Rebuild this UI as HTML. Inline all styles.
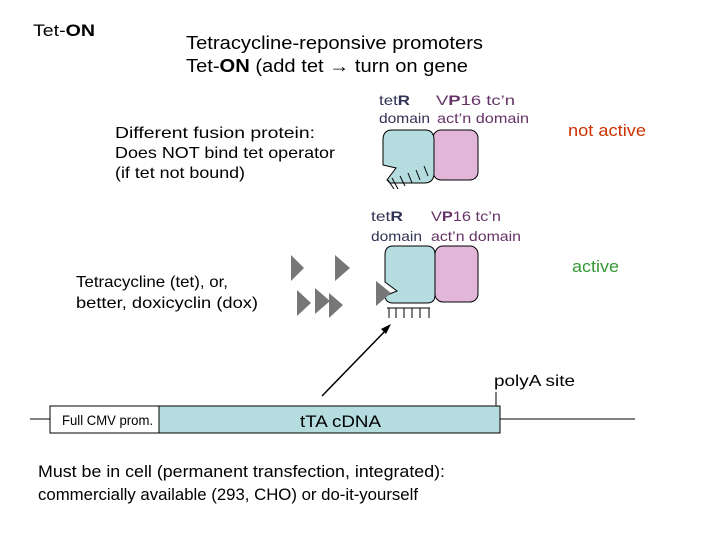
<!DOCTYPE html>
<html><head><style>
html,body{margin:0;padding:0;background:#fff;}
svg{display:block;}
text{font-family:"Liberation Sans",Arial,sans-serif;}
</style></head><body>
<svg width="720" height="540" viewBox="0 0 720 540" xmlns="http://www.w3.org/2000/svg">
<text x="33" y="36" font-size="17" textLength="62" lengthAdjust="spacingAndGlyphs">Tet-<tspan font-weight="bold">ON</tspan></text>
<text x="186" y="49" font-size="18" textLength="297" lengthAdjust="spacingAndGlyphs">Tetracycline-reponsive promoters</text>
<text x="186" y="72" font-size="18" textLength="282" lengthAdjust="spacingAndGlyphs">Tet-<tspan font-weight="bold">ON</tspan> (add tet → turn on gene</text>

<text x="115" y="138" font-size="16" textLength="200" lengthAdjust="spacingAndGlyphs">Different fusion protein:</text>
<text x="115" y="158" font-size="16" textLength="220" lengthAdjust="spacingAndGlyphs">Does NOT bind tet operator</text>
<text x="115" y="178" font-size="16" textLength="130" lengthAdjust="spacingAndGlyphs">(if tet not bound)</text>

<text x="379" y="105" font-size="14" fill="#333355" textLength="31" lengthAdjust="spacingAndGlyphs">tet<tspan font-weight="bold">R</tspan></text>
<text x="436" y="105" font-size="14" fill="#663366" textLength="79" lengthAdjust="spacingAndGlyphs">V<tspan font-weight="bold">P</tspan>16 tc’n</text>
<text x="379" y="123" font-size="14" fill="#333355" textLength="51" lengthAdjust="spacingAndGlyphs">domain</text>
<text x="437" y="123" font-size="14" fill="#663366" textLength="92" lengthAdjust="spacingAndGlyphs">act’n domain</text>
<text x="568" y="136" font-size="17" fill="#cc3300" textLength="78" lengthAdjust="spacingAndGlyphs">not active</text>

<rect x="433" y="130" width="45" height="50" rx="8" fill="#e2b6d8" stroke="#000" stroke-width="1"/>
<path d="M392,130 H425 Q434,130 434,140 V173 Q434,183 424,183 H390 L387,180 L396,168 L383,165 V140 Q383,130 392,130 Z" fill="#b5dde0" stroke="#000" stroke-width="1"/>
<g stroke="#000" stroke-width="1">
<line x1="392" y1="178" x2="398" y2="189"/><line x1="400" y1="176" x2="405" y2="186"/><line x1="408" y1="173" x2="412" y2="183"/><line x1="416" y1="170" x2="420" y2="180"/><line x1="424" y1="166" x2="428" y2="176"/><line x1="388" y1="180" x2="394" y2="189"/>
</g>

<text x="371" y="221" font-size="14" fill="#333355" textLength="32" lengthAdjust="spacingAndGlyphs">tet<tspan font-weight="bold">R</tspan></text>
<text x="431" y="221" font-size="14" fill="#663366" textLength="70" lengthAdjust="spacingAndGlyphs">V<tspan font-weight="bold">P</tspan>16 tc’n</text>
<text x="371" y="241" font-size="14" fill="#333355" textLength="51" lengthAdjust="spacingAndGlyphs">domain</text>
<text x="431" y="241" font-size="14" fill="#663366" textLength="90" lengthAdjust="spacingAndGlyphs">act’n domain</text>
<text x="572" y="272" font-size="17" fill="#339933" textLength="47" lengthAdjust="spacingAndGlyphs">active</text>

<rect x="435" y="246" width="43" height="56" rx="8" fill="#e2b6d8" stroke="#000" stroke-width="1"/>
<path d="M393,246 H427 Q435,246 435,255 V295 Q435,303 427,303 H393 Q385,303 385,295 V296 L397,291 L385,282 V255 Q385,246 393,246 Z" fill="#b5dde0" stroke="#000" stroke-width="1"/>
<g stroke="#000" stroke-width="1">
<line x1="389" y1="308" x2="389" y2="318"/><line x1="396" y1="308" x2="396" y2="318"/><line x1="404" y1="308" x2="404" y2="318"/><line x1="412" y1="308" x2="412" y2="318"/><line x1="420" y1="308" x2="420" y2="318"/><line x1="429" y1="308" x2="429" y2="318"/>
<line x1="387" y1="308" x2="430" y2="308"/>
</g>

<g fill="#777">
<polygon points="291,255 291,281 304,268"/>
<polygon points="335,255 335,281 350,268"/>
<polygon points="297,290 297,316 311,303"/>
<polygon points="315,288 315,314 330,301"/>
<polygon points="329,293 329,318 343,305"/>
<polygon points="376,281 376,306 391,293"/>
</g>

<text x="76" y="287" font-size="16" textLength="152" lengthAdjust="spacingAndGlyphs">Tetracycline (tet), or,</text>
<text x="76" y="308" font-size="16" textLength="182" lengthAdjust="spacingAndGlyphs">better, doxicyclin (dox)</text>

<line x1="322" y1="396" x2="388" y2="328" stroke="#000" stroke-width="1.5"/>
<polygon points="391,324 381,329 386,334" fill="#000"/>

<text x="494" y="386" font-size="16" textLength="81" lengthAdjust="spacingAndGlyphs">polyA site</text>
<line x1="496" y1="392" x2="496" y2="410" stroke="#000"/>

<line x1="30" y1="419" x2="635" y2="419" stroke="#000"/>
<rect x="50" y="406" width="109" height="27" fill="#fff" stroke="#000"/>
<rect x="159" y="406" width="341" height="27" fill="#b5dde0" stroke="#000"/>
<text x="62" y="425" font-size="14" textLength="91" lengthAdjust="spacingAndGlyphs">Full CMV prom.</text>
<text x="300" y="427" font-size="17" textLength="81" lengthAdjust="spacingAndGlyphs">tTA cDNA</text>

<text x="38" y="477" font-size="17" textLength="407" lengthAdjust="spacingAndGlyphs">Must be in cell (permanent transfection, integrated):</text>
<text x="38" y="500" font-size="17" textLength="380" lengthAdjust="spacingAndGlyphs">commercially available (293, CHO) or do-it-yourself</text>
</svg>
</body></html>
